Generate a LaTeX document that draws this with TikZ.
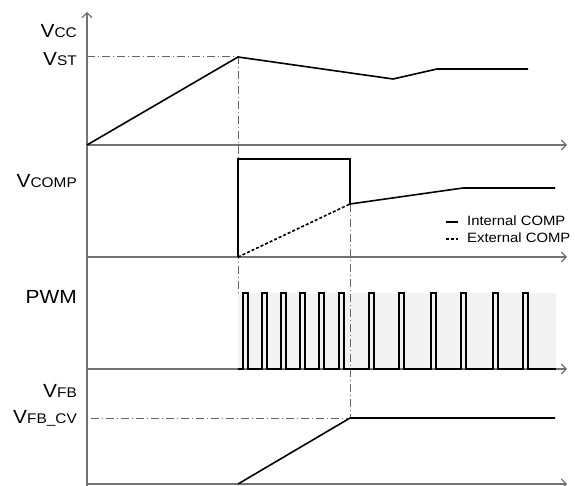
\documentclass[tikz,border=0pt]{standalone}
\usepackage{fontspec}
\setmainfont[FakeStretch=1.1]{Liberation Sans}
\usetikzlibrary{arrows.meta,positioning,calc}
\def\sigwidth{1.6pt}
\def\axiswidth{1.1pt}
\def\pulsewidth{5}
\newcommand{\siglabel}[2]{{\fontsize{19}{21}\selectfont #1}{\fontsize{14}{16}\selectfont #2}}

\begin{document}
\begin{tikzpicture}[x=1pt,y=1pt,
    axis/.style={draw=black!55,line width=\axiswidth},
    myarrow/.style={-{Straight Barb[length=5pt,width=10pt]}},
    guide/.style={draw=black!60,line width=1pt,dash pattern=on 8pt off 3pt on 1pt off 3pt}]
    \tikzstyle{signal}=[draw=black,line width=\sigwidth,line join=miter]
    \tikzstyle{extsignal}=[signal,dash pattern=on 3pt off 2pt]
    \tikzstyle{lbl}=[anchor=base east,inner sep=0pt]
    \tikzstyle{legend}=[anchor=base west,inner sep=0pt,font=\fontsize{13.5}{16}\selectfont]
    \useasboundingbox (0,0) rectangle (575,485);

    % Shade the switching window
    \fill[black!5] (238,116) rectangle (556,192);

    % Draw the axes
    \coordinate (Y-0) at (87,-2);
    \coordinate (Y-1) at (87,473);
    \draw[axis,myarrow] (Y-0) -- (Y-1);
    \foreach \name/\y in {Vcc/340,Comp/228,Pwm/116,Fb/1} {
        \coordinate (\name-0) at (87,\y);
        \coordinate (\name-1) at (567,\y);
        \draw[axis,myarrow] (\name-0) -- (\name-1);
    }

    % Axis labels
    \node[lbl] (L-Vcc) at (77,447) {\siglabel{V}{CC}};
    \node[lbl] (L-Vst) at (77,419) {\siglabel{V}{ST}};
    \node[lbl] (L-Comp) at (77,297) {\siglabel{V}{COMP}};
    \node[lbl] (L-Pwm) at (77,182) {\siglabel{}{\fontsize{19}{21}\selectfont PWM}};
    \node[lbl] (L-Fb) at (77,88) {\siglabel{V}{FB}};
    \node[lbl] (L-Fbcv) at (77,62) {\siglabel{V}{FB\_CV}};

    % Key points of the waveforms
    \coordinate (St) at (238,428);
    \coordinate (Ss) at (238,192);
    \coordinate (Jc) at (350,281);
    \coordinate (Cv) at (350,67);

    % Dash-dot guides
    \draw[guide] (Vcc-0 |- St) -- (St) -- (Ss);
    \draw[guide] (Jc) -- (Cv) -- (Fb-0 |- Cv);

    % Vcc
    \draw[signal] (Vcc-0) -- (St) -- (393,406) -- (437,416) -- (528,416);

    % Vcomp, internal and external
    \draw[signal] (238,228) -- (238,326) -- (350,326) -- (Jc) -- (463,297) -- (555,297);
    \draw[extsignal] (238,228) -- (Jc);

    % Legend
    \node[legend] (Int) at (467,259) {Internal COMP};
    \node[legend] (Ext) at (467,242) {External COMP};
    \draw[signal] ($(Int.base west)+(-21,4)$) -- ++(12,0);
    \draw[extsignal] ($(Ext.base west)+(-21,4)$) -- ++(12,0);

    % PWM pulses
    \draw[signal] (238,116)
        foreach \s in {243,262,281,300,319,339,369,399,431,461,493,523} {
            -- (\s,116) -- (\s,192) -- (\s+\pulsewidth,192) -- (\s+\pulsewidth,116)
        } -- (556,116);

    % Vfb
    \draw[signal] (238,1) -- (Cv) -- (555,67);
\end{tikzpicture}
\end{document}
